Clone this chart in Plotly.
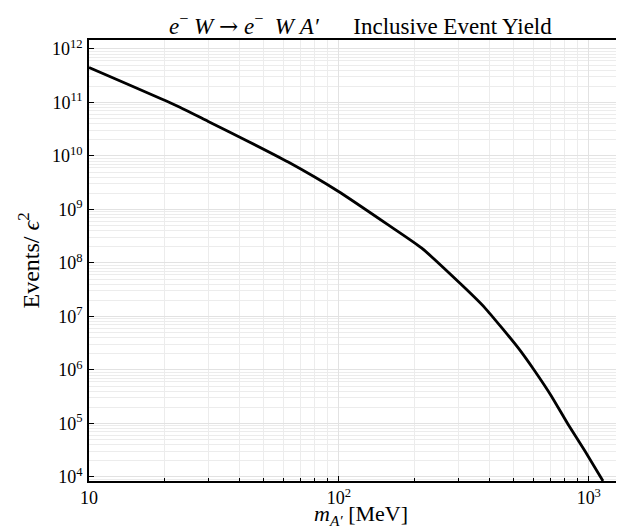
import plotly.graph_objects as go

# Data (mass in MeV, events / epsilon^2)
mass_mev = [10, 23.1, 30.0, 43.4, 62.7, 99.3, 157, 214, 309, 384,
            521, 608, 708, 826, 964, 1140]
events_per_eps2 = [4.50e11, 8.17e10, 4.42e10, 1.87e10, 7.69e9,
                   2.19e9, 5.20e8, 1.91e8, 3.95e7, 1.45e7, 2.61e6, 9.57e5,
                   3.27e5, 9.66e4, 3.08e4, 8.41e3]

x_tickvals = [10, 100, 1000]
x_ticktext = ["10", "10<sup>2</sup>", "10<sup>3</sup>"]
y_exponents = [4, 5, 6, 7, 8, 9, 10, 11, 12]
y_tickvals = [10.0 ** e for e in y_exponents]
y_ticktext = ["10<sup>%d</sup>" % e for e in y_exponents]

x_minor = [k * 10 ** n for n in (1, 2, 3) for k in range(2, 10)]
y_minor = [k * 10.0 ** n for n in range(3, 12) for k in range(2, 10)]

FONT = "Liberation Serif"

fig = go.Figure()
fig.add_trace(go.Scatter(
    x=mass_mev, y=events_per_eps2, mode="lines",
    line=dict(color="black", width=2.8, shape="spline", smoothing=0.5),
    showlegend=False, hoverinfo="skip"))

fig.update_layout(
    width=624, height=528,
    margin=dict(l=81, r=0, t=32, b=55),
    paper_bgcolor="white", plot_bgcolor="white",
    font=dict(family=FONT, color="black", size=18),
    annotations=[
        dict(text=("<i>e</i><sup>−</sup> <i>W</i> <span style=\"font-family:'DejaVu Serif'\">→</span> "
                   "<i>e</i><sup>−</sup>\u00a0\u00a0<i>W</i> <i>A′</i>"
                   "\u00a0\u00a0\u00a0\u00a0\u00a0\u00a0Inclusive Event Yield"),
             xref="paper", yref="paper", x=0.5, y=1.0, xanchor="center", yanchor="bottom",
             yshift=-1, showarrow=False, font=dict(family=FONT, size=23, color="black")),
        dict(text="<i>m</i><sub><i>A′</i></sub> [MeV]",
             xref="paper", yref="paper", x=0.5, y=0.0, xanchor="center", yanchor="bottom",
             yshift=-50, showarrow=False, font=dict(family=FONT, size=22, color="black")),
    ],
)

fig.update_xaxes(
    type="log", range=[1, 3.173],
    tickmode="array", tickvals=x_tickvals, ticktext=x_ticktext,
    ticks="inside", ticklen=5, tickcolor="black", tickwidth=1,
    ticklabelstandoff=0,
    showline=True, linecolor="black", linewidth=1.5, mirror=True,
    showgrid=True, gridcolor="#e2e2e2", gridwidth=1,
    minor=dict(tickvals=x_minor, ticks="inside", ticklen=3, tickcolor="black",
               showgrid=True, gridcolor="#ececec", gridwidth=1),
    zeroline=False,
)
fig.update_yaxes(
    type="log", range=[3.925, 12.168],
    tickmode="array", tickvals=y_tickvals, ticktext=y_ticktext,
    ticks="inside", ticklen=5, tickcolor="black", tickwidth=1,
    ticklabelstandoff=1,
    showline=True, linecolor="black", linewidth=1.5, mirror=False,
    showgrid=True, gridcolor="#e2e2e2", gridwidth=1,
    minor=dict(tickvals=y_minor, ticks="", showgrid=True, gridcolor="#ececec", gridwidth=1),
    zeroline=False,
    title=dict(text="Events/ <i>ϵ</i><sup>2</sup>", font=dict(size=24, family=FONT), standoff=6),
)

fig.write_html("out.html")
